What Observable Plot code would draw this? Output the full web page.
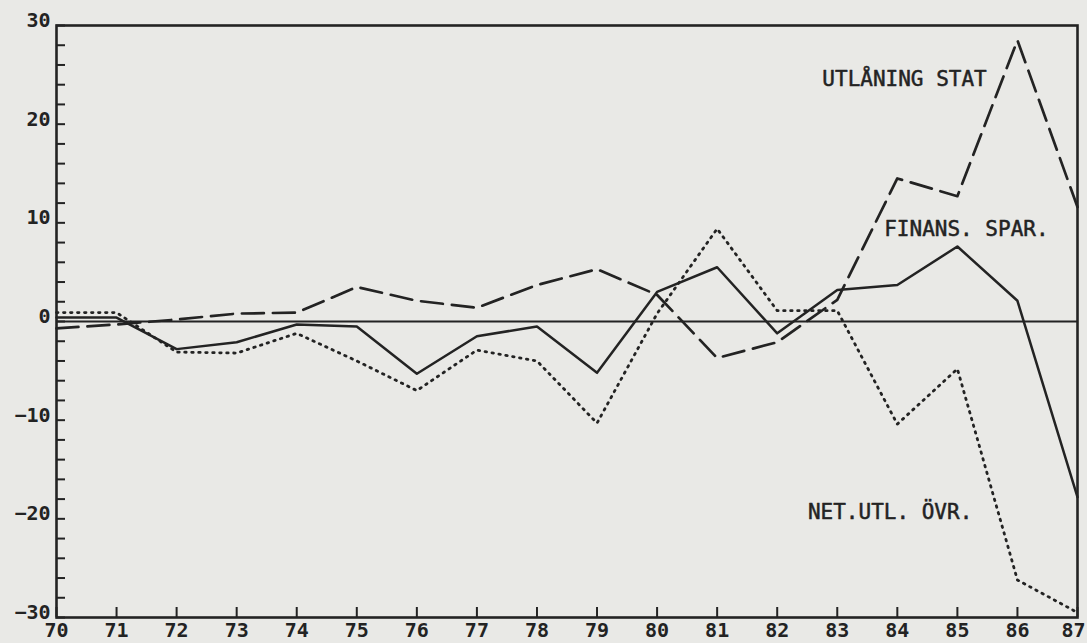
<!DOCTYPE html>
<html>
<head>
<meta charset="utf-8">
<script src="https://cdn.jsdelivr.net/npm/d3@7"></script>
<script src="https://cdn.jsdelivr.net/npm/@observablehq/plot@0.6"></script>
<style>
  html, body { margin: 0; padding: 0; background: #e9e9e6; }
  #chart svg { display: block; }
</style>
</head>
<body>
<div id="chart"></div>
<script>
// ---- data ----
const years = [70,71,72,73,74,75,76,77,78,79,80,81,82,83,84,85,86,87];
const finansSpar   = [0.4, 0.4, -2.8, -2.1, -0.3, -0.5, -5.3, -1.5, -0.5, -5.2, 3.0, 5.5, -1.2, 3.2, 3.7, 7.6, 2.1, -17.8];
const utlaningStat = [-0.7, -0.3, 0.2, 0.8, 0.9, 3.5, 2.1, 1.4, 3.7, 5.3, 2.7, -3.7, -2.1, 2.2, 14.5, 12.7, 28.5, 11.6];
const netUtlOvr    = [0.9, 0.9, -3.1, -3.2, -1.2, -4.0, -7.0, -2.9, -4.0, -10.3, 0.8, 9.4, 1.1, 1.1, -10.4, -4.8, -26.2, -29.5];
const yTicksMinor = [-30,-28,-26,-24,-22,-20,-18,-16,-14,-12,-10,-8,-6,-4,-2,0,2,4,6,8,10,12,14,16,18,20,22,24,26,28,30];
const yTickLabels = [-30,-20,-10,0,10,20,30];
const seriesLabels = ["UTLÅNING STAT", "FINANS. SPAR.", "NET.UTL. ÖVR."];
const labelYears   = [84.12, 85.15, 83.88];
const labelValues  = [24.6, 9.3, -19.3];

const ink = "#232323";
const rows = (vals) => years.map((y, i) => ({year: y, value: vals[i]}));
const labels = seriesLabels.map((t, i) => ({text: t, year: labelYears[i], value: labelValues[i]}));
const innerYears = years.slice(0, -1);
const lastYear = years.slice(-1);

const xLabelOpts = {tickSize: 0, tickPadding: 5, tickFormat: d => String(d), label: null, fontSize: 20, fontWeight: "bold", fill: ink};

const plot = Plot.plot({
  width: 1087,
  height: 643,
  marginLeft: 56,
  marginRight: 10,
  marginTop: 25,
  marginBottom: 26,
  style: {background: "#e9e9e6", color: ink, fontFamily: "'DejaVu Sans Mono', monospace", fontWeight: "bold", overflow: "visible"},
  x: {domain: [70, 87], axis: null},
  y: {domain: [-30, 30], axis: null},
  marks: [
    Plot.ruleY([0], {stroke: ink, strokeWidth: 2.2}),
    Plot.line(rows(netUtlOvr), {x: "year", y: "value", stroke: ink, strokeWidth: 2.8, strokeDasharray: "1.5,5.5", strokeLinecap: "round"}),
    Plot.line(rows(utlaningStat), {x: "year", y: "value", stroke: ink, strokeWidth: 2.7, strokeDasharray: "22,9"}),
    Plot.line(rows(finansSpar), {x: "year", y: "value", stroke: ink, strokeWidth: 2.5}),
    // y axis ticks (inward)
    Plot.axisY({ticks: yTicksMinor, tickSize: -9, tickFormat: () => "", label: null, strokeWidth: 2, stroke: ink}),
    Plot.axisY({ticks: yTickLabels, tickSize: 0, tickPadding: 6, dy: -5, label: null, fontSize: 20, fontWeight: "bold", fill: ink}),
    // x axis ticks (inward)
    Plot.axisX({ticks: years, tickSize: -10, tickFormat: () => "", label: null, strokeWidth: 2, stroke: ink}),
    Plot.axisX({ticks: innerYears, ...xLabelOpts}),
    Plot.axisX({ticks: lastYear, ...xLabelOpts, dx: -4}),
    Plot.frame({stroke: ink, strokeWidth: 2.6}),
    Plot.text(labels, {x: "year", y: "value", text: "text", fontSize: 21, fontWeight: "normal", fill: ink, stroke: ink, strokeWidth: 0.5, fontFamily: "'DejaVu Sans Mono', monospace"})
  ]
});
document.getElementById("chart").appendChild(plot);
</script>
</body>
</html>
